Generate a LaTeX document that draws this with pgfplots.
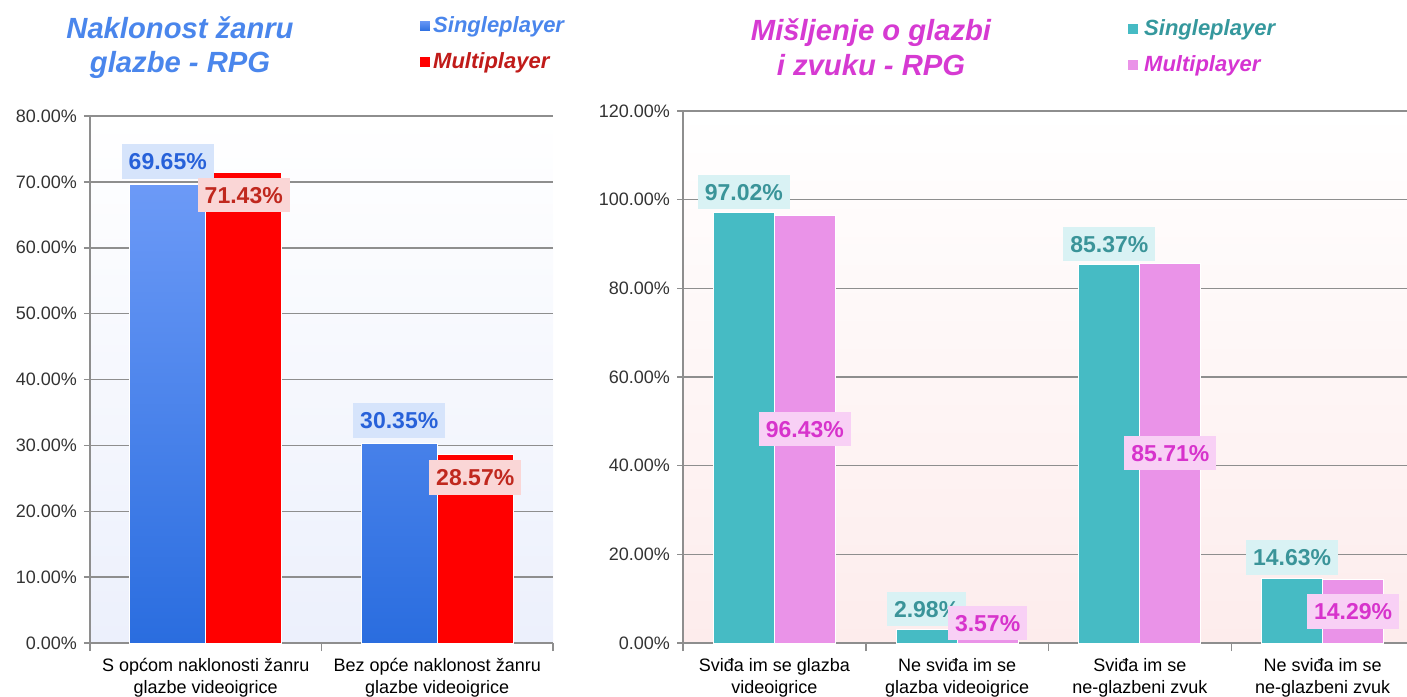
\documentclass[border=0pt]{standalone}
\usepackage{pgfplots}
\pgfplotsset{compat=1.18}
\usepackage{fontspec}
\setmainfont{Liberation Sans}

\definecolor{gridgray}{HTML}{8E8E8E}
\definecolor{ticktext}{HTML}{333333}
\definecolor{blueTop}{HTML}{6C9AF7}
\definecolor{blueBot}{HTML}{2A6DDF}
\definecolor{barRed}{HTML}{FF0000}
\definecolor{barTeal}{HTML}{46BBC4}
\definecolor{barPink}{HTML}{EA93E8}
\definecolor{bgBlue}{HTML}{ECF0FC}
\definecolor{bgPink}{HTML}{FDECEC}
\definecolor{titleBlue}{HTML}{4A86EC}
\definecolor{legRed}{HTML}{C01B19}
\definecolor{titleMag}{HTML}{D63AD2}
\definecolor{legTeal}{HTML}{35989D}
\definecolor{legPink}{HTML}{D634D2}
\definecolor{lblBlueBg}{HTML}{D6E4FB}
\definecolor{lblBlueTx}{HTML}{2761D9}
\definecolor{lblRedBg}{HTML}{FAD6D6}
\definecolor{lblRedTx}{HTML}{C0281E}
\definecolor{lblTealBg}{HTML}{D9F2F4}
\definecolor{lblTealTx}{HTML}{3A9499}
\definecolor{lblPinkBg}{HTML}{F8D0F5}
\definecolor{lblPinkTx}{HTML}{D733CC}

\tikzset{
  vlabel/.style 2 args={fill=#1, text=#2, font=\bfseries\fontsize{11.5}{13}\selectfont,
    inner xsep=3.5pt, inner ysep=4.25pt, text height=8.4pt, text depth=0.3pt},
}
\pgfplotsset{
  panel/.style={
    scale only axis, anchor=south west,
    ybar=0pt, bar width=#1,
    ymin=0, xmin=-0.5,
    axis x line*=bottom, axis y line*=left,
    axis line style={gridgray, line width=0.75pt},
    ymajorgrids, grid style={gridgray, line width=0.75pt},
    tick align=outside,
    major tick length=3pt,
    ytick style={gridgray, line width=0.75pt},
    xtick style={draw=none},
    extra x tick style={xtick style={draw=gridgray, line width=0.75pt}, major tick length=4pt},
    extra x tick labels={},
    yticklabel={\pgfmathprintnumber[fixed,fixed zerofill,precision=2,assume math mode=true]{\tick}\%},
    yticklabel style={font=\fontsize{9}{11}\selectfont, text=ticktext},
    xticklabel style={font=\fontsize{9}{11}\selectfont, align=center, text=black, yshift=-1pt},
    nodes near coords={\pgfmathprintnumber[fixed,fixed zerofill,precision=2,assume math mode=true]{\pgfplotspointmeta}\%},
    legend style={draw=none, fill=none, inner sep=0pt, anchor=west,
      font=\bfseries\itshape\fontsize{11}{13}\selectfont, row sep=6.75pt,
      nodes={inner sep=1pt}},
    legend cell align=left,
    legend image code/.code={\fill[##1] (0pt,-2.75pt) rectangle (5.5pt,2.75pt);},
  },
}

\begin{document}
\begin{tikzpicture}
\path[use as bounding box] (0,0) rectangle (703.5pt,348pt);

% left panel
\begin{axis}[panel=38pt,
  at={(45pt,26.5pt)}, width=231.5pt, height=263.5pt,
  ymax=80, ytick={0,10,...,80}, xmax=1.5,
  xtick={0,1},
  xticklabels={{S općom naklonosti žanru\\glazbe videoigrice},{Bez opće naklonost žanru\\glazbe videoigrice}},
  extra x ticks={-0.5,0.5,1.5},
  axis background/.style={shade, top color=white, bottom color=bgBlue},
  legend style={at={(0.7106,1.1366)}},
]
\addplot[top color=blueTop, bottom color=blueBot, draw=white, line width=0.4pt,
  every node near coord/.append style={vlabel={lblBlueBg}{lblBlueTx}, anchor=south, yshift=2.5pt}]
  coordinates {(0,69.65) (1,30.35)};
\addplot[fill=barRed, draw=white, line width=0.4pt,
  every node near coord/.append style={vlabel={lblRedBg}{lblRedTx}, anchor=north, yshift=-2.5pt}]
  coordinates {(0,71.43) (1,28.57)};
\legend{\textcolor{titleBlue}{Singleplayer},\textcolor{legRed}{Multiplayer}}
\end{axis}

% right panel
\begin{axis}[panel=30.5pt,
  at={(341.5pt,26.5pt)}, width=365.5pt, height=266pt,
  ymax=120, ytick={0,20,...,120}, xmax=3.5,
  xtick={0,1,2,3},
  xticklabels={{Sviđa im se glazba\\videoigrice},{Ne sviđa im se\\glazba videoigrice},{Sviđa im se\\ne-glazbeni zvuk},{Ne sviđa im se\\ne-glazbeni zvuk}},
  extra x ticks={-0.5,0.5,1.5,2.5,3.5},
  axis background/.style={shade, top color=white, bottom color=bgPink},
  legend style={at={(0.6074,1.1203)}, column sep=1.5pt},
]
\addplot[fill=barTeal, draw=white, line width=0.4pt,
  every node near coord/.append style={vlabel={lblTealBg}{lblTealTx}, anchor=south, yshift=1.5pt}]
  coordinates {(0,97.02) (1,2.98) (2,85.37) (3,14.63)};
\addplot[fill=barPink, draw=white, line width=0.4pt,
  visualization depends on=rawy\as\rawy,
  every node near coord/.append style={vlabel={lblPinkBg}{lblPinkTx}, anchor=center,
    yshift={max(\rawy*1.108333,10)-\rawy*2.216667}}]
  coordinates {(0,96.43) (1,3.57) (2,85.71) (3,14.29)};
\legend{\textcolor{legTeal}{Singleplayer},\textcolor{legPink}{Multiplayer}}
\end{axis}

% titles
\node[align=center, font=\bfseries\itshape\fontsize{14.6}{17}\selectfont, text=titleBlue]
  at (90pt,324pt) {Naklonost žanru\\glazbe - RPG};
\node[align=center, font=\bfseries\itshape\fontsize{14.6}{17.5}\selectfont, text=titleMag]
  at (435.5pt,324.25pt) {Mišljenje o glazbi\\i zvuku - RPG};
\end{tikzpicture}
\end{document}
